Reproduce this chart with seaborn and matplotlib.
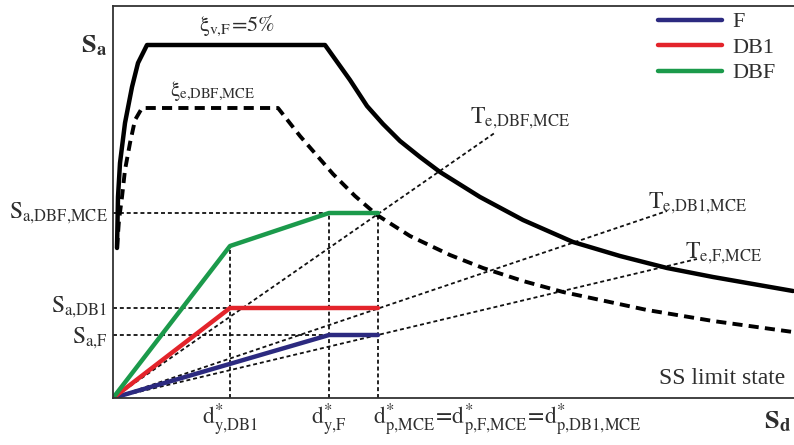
import matplotlib
matplotlib.use("Agg")
import matplotlib.pyplot as plt
import seaborn as sns

sns.set_theme(style="white")
plt.rcParams["font.family"] = ["Liberation Serif", "DejaVu Serif"]
plt.rcParams["mathtext.fontset"] = "stix"

# ---------------- data (pixel-like units) ----------------
# elastic spectrum, 5% damping (solid black)
spec5_x = [4, 5, 7, 12, 19, 25, 34, 212, 237, 254, 270, 287, 307, 327, 367, 410, 460, 507, 554, 600, 680]
spec5_y = [150, 201, 235, 275, 311, 335, 353, 353, 318, 292, 274, 257, 241, 226, 201, 178, 156, 142, 130, 121, 107]
# reduced spectrum xi_e,DBF,MCE (thick dashed black)
specE_x = [4, 6, 9, 12, 17, 22, 29, 165, 187, 220, 242, 264, 297, 337, 370, 410, 450, 534, 600, 680]
specE_y = [150, 178, 201, 228, 255, 278, 290, 290, 262, 224, 202, 183, 162, 143, 130, 117, 106, 88, 77, 66]

# capacity curves
series_names = ["F", "DB1", "DBF"]
F_x = [0, 216, 265]
F_y = [0, 63, 63]
DB1_x = [0, 117, 265]
DB1_y = [0, 90, 90]
DBF_x = [0, 117, 216, 265]
DBF_y = [0, 152, 185, 185]

# reference levels
sa_levels = [185, 90, 63]          # Sa,DBF,MCE ; Sa,DB1 ; Sa,F
d_yield = [117, 216]              # d*y,DB1 ; d*y,F
d_perf = 265                       # d*p,MCE
yield_heights = [152, 185]

# effective period lines (from origin)
Te_end_x = [383, 554, 584]
Te_end_y = [266, 187, 139]
Te_labels = [r"$\mathrm{T}_{\mathrm{e{,}DBF{,}MCE}}$", r"$\mathrm{T}_{\mathrm{e{,}DB1{,}MCE}}$",
             r"$\mathrm{T}_{\mathrm{e{,}F{,}MCE}}$"]

colors = {"F": "#2c2a80", "DB1": "#e3242b", "DBF": "#1b9a4b"}
txt = "#2e2e2e"

# ---------------- figure ----------------
fig = plt.figure(figsize=(7.94, 4.45), dpi=100)
ax = fig.add_axes([113 / 794, 47 / 445, 681 / 794, 392 / 445])

dot = dict(color="#111111", lw=1.3, dashes=(2.2, 1.6), estimator=None, sort=False)

# horizontal reference lines
for s in sa_levels:
    sns.lineplot(x=[0, d_perf], y=[s, s], ax=ax, **dot)
# vertical reference lines
for d, h in zip(d_yield, yield_heights):
    sns.lineplot(x=[d, d], y=[0, h], ax=ax, **dot)
sns.lineplot(x=[d_perf, d_perf], y=[0, sa_levels[0]], ax=ax, **dot)
# effective period lines
for ex, ey in zip(Te_end_x, Te_end_y):
    sns.lineplot(x=[0, ex], y=[0, ey], ax=ax, **dot)

# spectra
sns.lineplot(x=spec5_x, y=spec5_y, sort=False, estimator=None, ax=ax,
             color="black", lw=3.2)
sns.lineplot(x=specE_x, y=specE_y, sort=False, estimator=None, ax=ax,
             color="black", lw=2.8, dashes=(2.6, 1.6))

# capacity curves
for name, xs, ys in zip(series_names, [F_x, DB1_x, DBF_x], [F_y, DB1_y, DBF_y]):
    sns.lineplot(x=xs, y=ys, sort=False, estimator=None, ax=ax,
                 color=colors[name], lw=3.2, label=name)

ax.set_xlim(0, 681)
ax.set_ylim(0, 392)
ax.set_xticks([])
ax.set_yticks([])
ax.set_xlabel("")
ax.set_ylabel("")
for side in ["left", "top", "bottom"]:
    ax.spines[side].set_color("#333333")
    ax.spines[side].set_linewidth(1.3)
ax.spines["right"].set_visible(False)

leg = ax.legend(loc="upper left", bbox_to_anchor=(0.8, 0.985), frameon=False,
                fontsize=16, handlelength=2.9, handletextpad=0.45,
                labelspacing=0.22, borderpad=0, borderaxespad=0)
for t in leg.get_texts():
    t.set_color(txt)

# ---------------- texts ----------------
kw = dict(color=txt, clip_on=False)
ax.text(-6, 352, r"$\mathbf{S}_{\mathbf{a}}$", ha="right", va="center", fontsize=19, **kw)
ax.text(124, 372, r"$\mathrm{\xi}_{\mathrm{v{,}F}}\!=\!5\%$", ha="center", va="center", fontsize=16, **kw)
ax.text(100, 307, r"$\mathrm{\xi}_{\mathrm{e{,}DBF{,}MCE}}$", ha="center", va="center", fontsize=15, **kw)

ax.text(-5, 185, r"$\mathrm{S}_{\mathrm{a{,}DBF{,}MCE}}$", ha="right", va="center", fontsize=17, **kw)
ax.text(-5, 91, r"$\mathrm{S}_{\mathrm{a{,}DB1}}$", ha="right", va="center", fontsize=17, **kw)
ax.text(-5, 60, r"$\mathrm{S}_{\mathrm{a{,}F}}$", ha="right", va="center", fontsize=17, **kw)

ax.text(d_yield[0], -22, r"$\mathrm{d}^{*}_{\mathrm{y{,}DB1}}$", ha="center", va="center", fontsize=17, **kw)
ax.text(d_yield[1], -22, r"$\mathrm{d}^{*}_{\mathrm{y{,}F}}$", ha="center", va="center", fontsize=17, **kw)
ax.text(d_perf - 5, -22,
        r"$\mathrm{d}^{*}_{\mathrm{p{,}MCE}}\!=\!\mathrm{d}^{*}_{\mathrm{p{,}F{,}MCE}}\!=\!\mathrm{d}^{*}_{\mathrm{p{,}DB1{,}MCE}}$",
        ha="left", va="center", fontsize=17, **kw)
ax.text(665, -24, r"$\mathbf{S}_{\mathbf{d}}$", ha="center", va="center", fontsize=19, **kw)

ax.text(357, 280, Te_labels[0], ha="left", va="center", fontsize=17, **kw)
ax.text(535, 195, Te_labels[1], ha="left", va="center", fontsize=17, **kw)
ax.text(572, 145, Te_labels[2], ha="left", va="center", fontsize=17, **kw)

ax.text(672, 20, "SS limit state", ha="right", va="center", fontsize=17, **kw)

fig.savefig("out.png", dpi=100)
